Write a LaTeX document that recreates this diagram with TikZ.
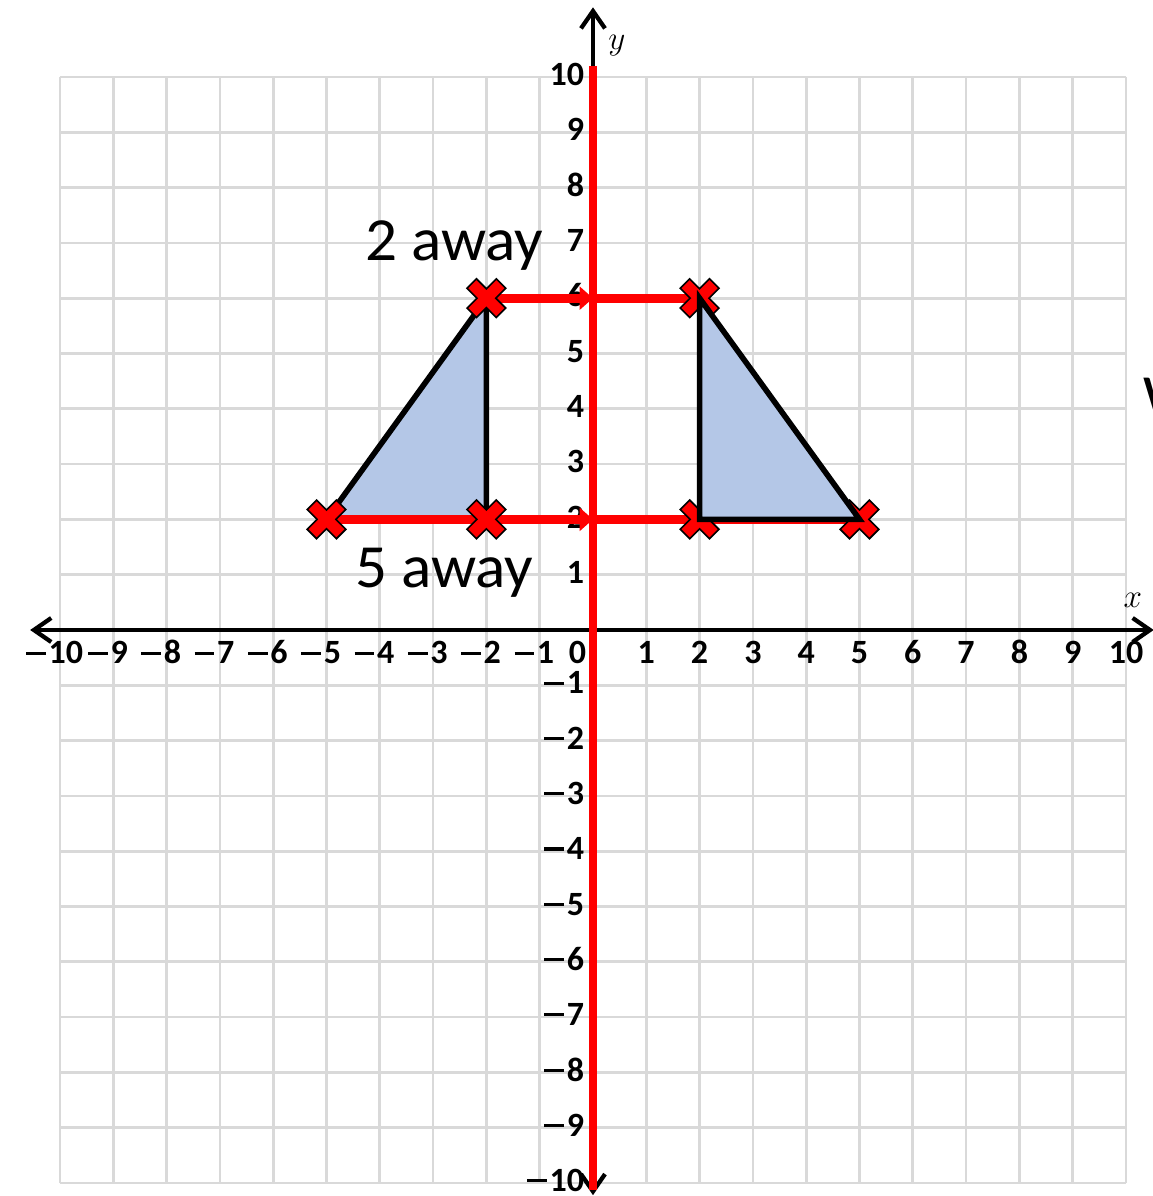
\documentclass[tikz,border=0pt]{standalone}
\usepackage{fontspec}
\setmainfont{Carlito}
\usetikzlibrary{arrows.meta}
\definecolor{gridgray}{HTML}{D9D9D9}
\definecolor{triblue}{HTML}{B4C7E7}
\newcommand\mym{\rule[0.275em]{0.58em}{0.09em}\hspace{0.08em}}
\tikzset{
  gridline/.style={draw=gridgray, line width=2pt},
  blackaxis/.style={draw=black, line width=3.2pt},
  redaxis/.style={draw=red, line width=6pt},
  redseg/.style={draw=red, line width=6.5pt},
  redarrow/.style={draw=red, line width=6.5pt, -{Triangle[length=10pt,width=17pt]}},
  tri/.style={fill=triblue, draw=black, line width=4.2pt, line join=miter},
  ticklab/.style={font=\fontsize{25.5}{30}\selectfont\bfseries, inner sep=0pt},
  axlab/.style={font=\fontsize{31}{34}\selectfont, inner sep=0pt},
  bigtext/.style={font=\fontsize{46}{54}\selectfont, inner sep=0pt, anchor=base west},
  axtip/.tip={Straight Barb[length=13pt,width=18pt]},
  xmark/.pic={
    \filldraw[fill=red, draw=black, line width=1.2pt, line join=miter, rotate=45]
      (5pt,5pt) -- (15.5pt,5pt) -- (15.5pt,-5pt) -- (5pt,-5pt) -- (5pt,-15.5pt) -- (-5pt,-15.5pt)
      -- (-5pt,-5pt) -- (-15.5pt,-5pt) -- (-15.5pt,5pt) -- (-5pt,5pt) -- (-5pt,15.5pt) -- (5pt,15.5pt) -- cycle;
  },
}
\begin{document}
\begin{tikzpicture}[x=39.975pt, y=41.475pt]
\useasboundingbox (-11.1257,-10.2351) rectangle (10.5066,11.3924);
% grid
\foreach \k in {-10,...,10} {
  \draw[gridline] (\k,-10) -- (\k,10);
  \draw[gridline] (-10,\k) -- (10,\k);
}
% black axes
\coordinate (xl) at (-10.56,0);
\coordinate (xr) at (10.52,0);
\coordinate (yb) at (0,-10.22);
\coordinate (yt) at (0,11.26);
\draw[blackaxis, axtip-axtip] (xl) -- (xr);
\draw[blackaxis, axtip-axtip] (yb) -- (yt);
% tick labels
\foreach \k in {1,...,10} {
  \node[ticklab, anchor=base] (xp\k) at (\k,0) [yshift=-25.5pt] {\k};
  \node[ticklab, anchor=base] (xn\k) at (-\k,0) [xshift=-4pt, yshift=-25.5pt] {\mym\k};
  \node[ticklab, anchor=base east] (yp\k) at (0,\k) [xshift=-6.5pt, yshift=-6.5pt] {\k};
  \node[ticklab, anchor=base east] (yn\k) at (0,-\k) [xshift=-6.5pt, yshift=-6.5pt] {\mym\k};
}
\node[ticklab, anchor=base east] (zero) at (0,0) [xshift=-5pt, yshift=-25.5pt] {0};
\node[axlab] (ylab) at (0.45,10.56) {$y$};
\node[axlab] (xlab) at (10.13,0.54) {$x$};
% red y-axis
\coordinate (rt) at (0,10.2);
\coordinate (rb) at (0,-10.13);
\draw[redaxis] (rt) -- (rb);
% points
\coordinate (A) at (-5,2);
\coordinate (B) at (-2,6);
\coordinate (C) at (-2,2);
\coordinate (A2) at (5,2);
\coordinate (B2) at (2,6);
\coordinate (C2) at (2,2);
\coordinate (O6) at (0,6);
\coordinate (O2) at (0,2);
% left triangle
\draw[tri] (A) -- (B) -- (C) -- cycle;
% red distance lines
\draw[redseg] (A) -- (C);
\draw[redarrow] (C) -- (O2);
\draw[redseg] (O2) -- (A2);
\draw[redarrow] (B) -- (O6);
\draw[redseg] (O6) -- (B2);
% crosses
\foreach \p in {A,B,C,A2,B2,C2} { \pic at (\p) {xmark}; }
% right triangle
\draw[tri] (B2) -- (A2) -- (C2) -- cycle;
% texts
\node[bigtext] (two) at (-4.28,6.69) {\scalebox{1.03}[1]{2 away}};
\node[bigtext] (five) at (-4.47,0.76) {\scalebox{1.03}[1]{5 away}};
\node[bigtext] (wcut) at (10.32,3.85) {W};
\end{tikzpicture}
\end{document}
